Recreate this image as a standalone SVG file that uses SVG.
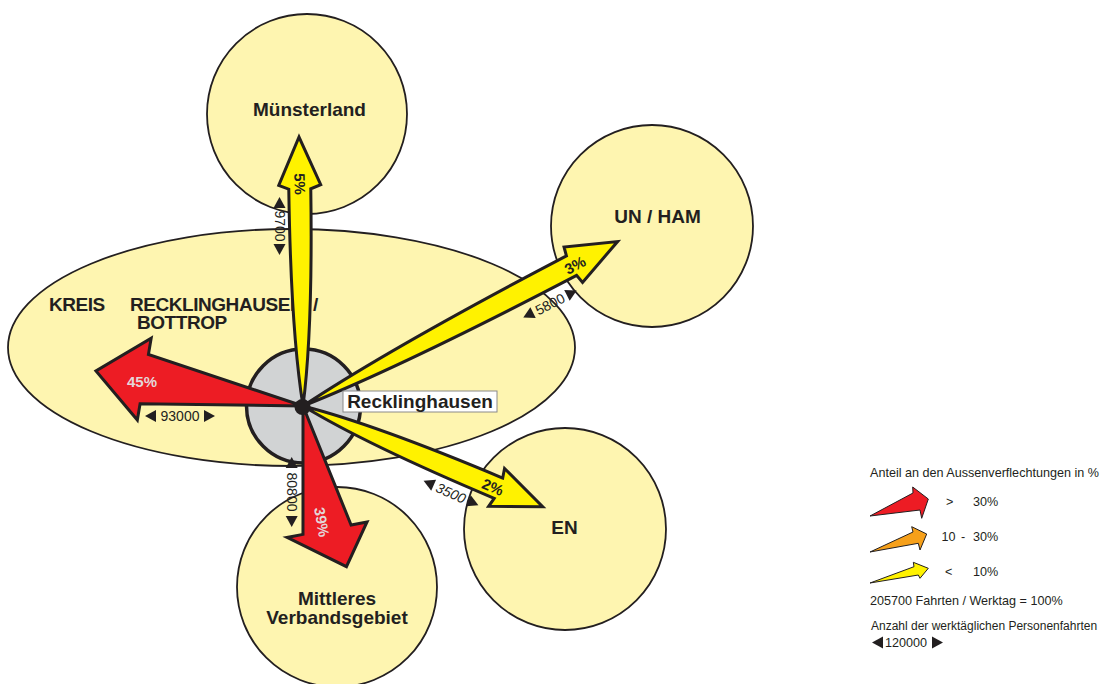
<svg xmlns="http://www.w3.org/2000/svg" width="1104" height="684" viewBox="0 0 1104 684">
<style>
text{font-family:"Liberation Sans",Arial,Helvetica,sans-serif;fill:#231f20}
.region{fill:#fef5b0;stroke:#231f20;stroke-width:1.8}
.name{font-weight:bold;font-size:19px;text-anchor:middle}
.kreis{font-weight:bold;font-size:19px;letter-spacing:-0.45px}
.ay{fill:#fff200;stroke:#231f20;stroke-width:3}
.ar{fill:#ed1c24;stroke:#231f20;stroke-width:3}
.pct{font-weight:bold;font-size:15px;text-anchor:middle}
.pl{fill:#e4d6d8}
.dim{font-size:14px;text-anchor:middle}
.tri{fill:#231f20}
.leg{font-size:12.6px}
.leg2{font-size:12px}
.la{stroke:#231f20;stroke-width:1}
</style>
<defs>
<polygon id="tl" class="tri" points="0,0 11,-6 11,6"/>
<polygon id="tr" class="tri" points="0,-6 0,6 11,0"/>
</defs>
<rect width="1104" height="684" fill="#ffffff"/>

<g id="kreis">
<ellipse class="region" cx="291.5" cy="347.5" rx="283.5" ry="118.5"/>
<text class="kreis"><tspan x="49" y="311">KREIS</tspan><tspan x="130" y="311">RECKLINGHAUSEN</tspan><tspan x="313" y="311">/</tspan><tspan x="137" y="328.5">BOTTROP</tspan></text>
</g>
<g id="muensterland">
<circle class="region" cx="307" cy="114" r="100"/>
<text class="name" x="309.5" y="116">Münsterland</text>
</g>
<g id="unham">
<circle class="region" cx="652" cy="226" r="101"/>
<text class="name" x="657.5" y="222.5">UN / HAM</text>
</g>
<g id="en">
<circle class="region" cx="565" cy="529" r="101"/>
<text class="name" x="564.5" y="534">EN</text>
</g>
<g id="mittleres">
<circle class="region" cx="337" cy="587" r="100"/>
<text class="name"><tspan x="337" y="605">Mittleres</tspan><tspan x="337" y="624">Verbandsgebiet</tspan></text>
</g>
<g id="recklinghausen">
<circle cx="303.5" cy="406" r="57" fill="#d1d3d4" stroke="#231f20" stroke-width="3.5"/>
</g>

<g id="connectors">
<g id="flow-muensterland">
<path class="ay" transform="translate(303,406) rotate(-90.85)" d="M0,0 Q76,-11 217,-11 L221,-21 L269,0 L221,21 L217,11 Q76,11 0,0Z"/>
<text class="pct" transform="translate(300,184) rotate(89)" y="5.5">5%</text>
<g transform="translate(279.5,226) rotate(90)"><use href="#tl" x="-29"/><use href="#tr" x="18"/><text class="dim" y="5">9700</text></g>
</g>
<g id="flow-unham">
<path class="ay" transform="translate(303,406) rotate(-27.6)" d="M0,0 Q106,-11 303,-11 L305,-20 L355,0 L305,20 L303,11 Q106,11 0,0Z"/>
<text class="pct" transform="translate(575,265) rotate(-27.6)" y="5.5">3%</text>
<g transform="translate(550,304) rotate(-27)"><use href="#tl" x="-30"/><use href="#tr" x="19"/><text class="dim" y="5">5800</text></g>
</g>
<g id="flow-en">
<path class="ay" transform="translate(303,406) rotate(22.8)" d="M0,0 Q74,-11 212,-11 L210,-20.5 L260,0 L210,20.5 L212,11 Q74,11 0,0Z"/>
<text class="pct" transform="translate(493,487) rotate(22.8)" y="5.5">2%</text>
<g transform="translate(451,493) rotate(24)"><use href="#tl" x="-30"/><use href="#tr" x="19"/><text class="dim" y="5" font-style="italic">3500</text></g>
</g>
<g id="flow-kreis">
<path class="ar" transform="translate(303,406) rotate(-170.4)" d="M0,0 L161,-25 L161,-41.5 L210,0 L161,41.5 L161,25 Z"/>
<text class="pct pl" x="142" y="386.5">45%</text>
<g transform="translate(180,416)"><use href="#tl" x="-35"/><use href="#tr" x="24"/><text class="dim" y="5">93000</text></g>
</g>
<g id="flow-mittleres">
<path class="ar" transform="translate(303,406) rotate(79)" d="M0,0 L126,-24.5 L126,-40.7 L166,-12 L126,40.7 L126,24.5 Z"/>
<text class="pct pl" transform="translate(322,522) rotate(80)" y="5.5">39%</text>
<g transform="translate(291.7,492) rotate(90)"><use href="#tl" x="-35"/><use href="#tr" x="24"/><text class="dim" y="5">80800</text></g>
</g>
</g>

<g id="recklinghausen-center">
<circle cx="302.5" cy="407" r="8" fill="#231f20"/>
<rect x="343" y="391" width="154" height="21" fill="#ffffff" stroke="#8a8a8a" stroke-width="1"/>
<text x="420" y="407.5" font-size="19" font-weight="bold" text-anchor="middle">Recklinghausen</text>
</g>

<g id="legend">
<text class="leg" x="870" y="477">Anteil an den Aussenverflechtungen in %</text>
<path class="la" fill="#ed1c24" d="M870,516 L913,493 L912.7,487 L928.3,499 L921.7,518.3 L920,510 Z"/>
<text class="leg" x="946" y="506">&gt;</text>
<text class="leg" x="973" y="506">30%</text>
<path class="la" fill="#f6a01a" d="M870,552 L913,532 L911.7,526.7 L926.7,534 L920,550 L918.3,543.3 Z"/>
<text class="leg" x="941.5" y="540.5">10</text>
<text class="leg" x="961" y="540.5">-</text>
<text class="leg" x="973" y="540.5">30%</text>
<path class="la" fill="#fff200" d="M870,583 L914,566.7 L913.3,562.3 L928.3,568.3 L920,578.3 L918.3,575 Z"/>
<text class="leg" x="945" y="576">&lt;</text>
<text class="leg" x="973" y="576">10%</text>
<text class="leg" x="870" y="605">205700 Fahrten / Werktag = 100%</text>
<text class="leg2" x="871" y="630">Anzahl der werktäglichen Personenfahrten</text>
<g transform="translate(906,642.5)"><use href="#tl" x="-34"/><use href="#tr" x="26"/><text class="leg" y="4.5" text-anchor="middle">120000</text></g>
</g>
</svg>
